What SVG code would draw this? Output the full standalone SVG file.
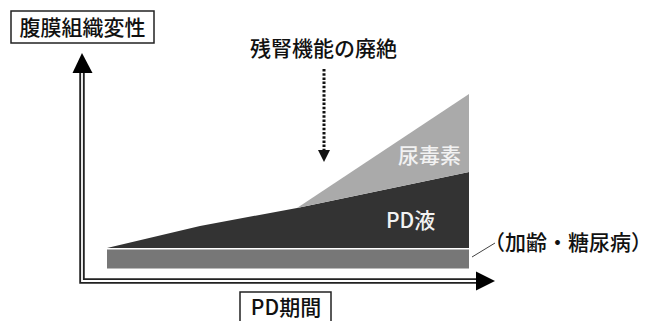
<svg xmlns="http://www.w3.org/2000/svg" width="656" height="321" viewBox="0 0 656 321">
<style>
.lbl{font-family:"Noto Sans CJK JP","Noto Sans",sans-serif;fill:#111;font-weight:500}
.wl{font-family:"Noto Sans CJK JP","Noto Sans",sans-serif;fill:#f2f2f2;font-weight:500}
.box{fill:#fff;stroke:#222;stroke-width:1.5}
</style>
<rect width="656" height="321" fill="#fff"/>
<g id="chart">
<polygon id="pd-fluid" points="107,248 200,226 297,208 469,172 469,248" fill="#333"/>
<polygon id="uremic" points="297,208 469,94 469,172" fill="#aaa"/>
<rect id="base-bar" x="107" y="249.5" width="362" height="19" fill="#777"/>
<text class="wl" x="398" y="163" font-size="21">尿毒素</text>
<text class="wl" x="386" y="228" font-size="21">PD液</text>
</g>
<g id="connectors">
<path d="M82 73 V281 H477" fill="none" stroke="#222" stroke-width="5.5"/>
<path d="M82 73 V281 H477" fill="none" stroke="#fff" stroke-width="1.8"/>
<polygon points="82,53 72.5,73 92.5,73" fill="#000"/>
<polygon points="495,281 476,271.5 476,290.5" fill="#000"/>
<line x1="324" y1="69" x2="324" y2="150" stroke="#111" stroke-width="3" stroke-dasharray="2.5,1.7"/>
<polygon points="324,162 318,150 330,150" fill="#111"/>
<line x1="472" y1="257" x2="495" y2="243" stroke="#444" stroke-width="1"/>
</g>
<g id="y-label">
<rect class="box" x="11" y="11" width="143" height="32"/>
<text class="lbl" x="82.5" y="35" font-size="21" text-anchor="middle">腹膜組織変性</text>
</g>
<g id="x-label">
<rect class="box" x="240" y="292" width="91" height="32"/>
<text class="lbl" x="286" y="315" font-size="21" text-anchor="middle">PD期間</text>
</g>
<g id="loss-label">
<text class="lbl" x="323.5" y="56" font-size="21" text-anchor="middle">残腎機能の廃絶</text>
</g>
<g id="note-label">
<text class="lbl" x="484" y="250" font-size="21">（加齢・糖尿病）</text>
</g>
</svg>
